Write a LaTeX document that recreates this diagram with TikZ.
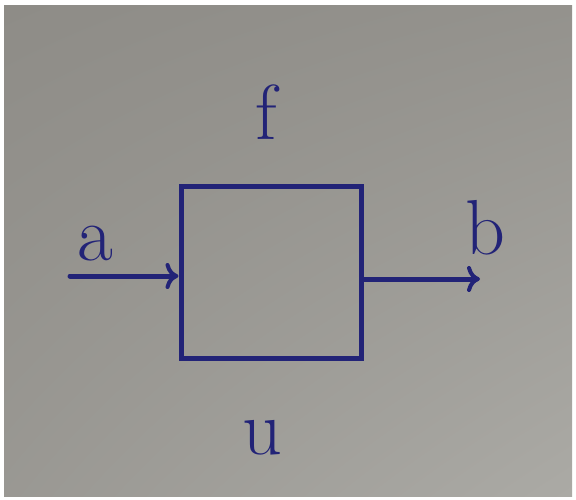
\documentclass[tikz,border=0pt]{standalone}
\usepackage{tikz}
\usepackage{xcolor}
\usetikzlibrary{arrows.meta,positioning,calc,shadings}
\definecolor{paper}{HTML}{FFFFFF}
\definecolor{board}{HTML}{8E8C87}
\definecolor{boardlight}{HTML}{ABAAA5}
\definecolor{ink}{HTML}{222377}
\tikzset{
  blockbox/.style={draw=ink,line width=5pt,minimum width=180pt,
                   minimum height=172pt,inner sep=0pt},
  handlabel/.style={text=ink,font=\fontsize{78}{78}\selectfont,inner sep=0pt},
  flowarr/.style={-{To[length=13pt,width=26pt,line width=4pt]},
                  draw=ink,line width=5pt,line cap=round}
}

\begin{document}
\begin{tikzpicture}[x=1pt,y=-1pt]
      \useasboundingbox (0,0) rectangle (576,499);
      \fill[paper] (0,0) rectangle (576,499);
      \shade[upper left=board,lower right=boardlight,
             upper right=board!80!boardlight,lower left=board!60!boardlight]
        (4,5) rectangle (572,496);

      \node[blockbox] (box) at (271,272) {};
      \node[handlabel] (f) at (266,112) {f};
      \node[handlabel] (u) at (262,438) {u};
      \node[handlabel] (a) at (95,244) {a};
      \node[handlabel] (b) at (485,228) {b};

      \coordinate (ain) at (70,276);
      \coordinate (bout) at (480,279);
      \draw[flowarr] (ain) -- (ain -| box.west);
      \draw[flowarr] (box.east |- bout) -- (bout);
    \end{tikzpicture}
\end{document}
